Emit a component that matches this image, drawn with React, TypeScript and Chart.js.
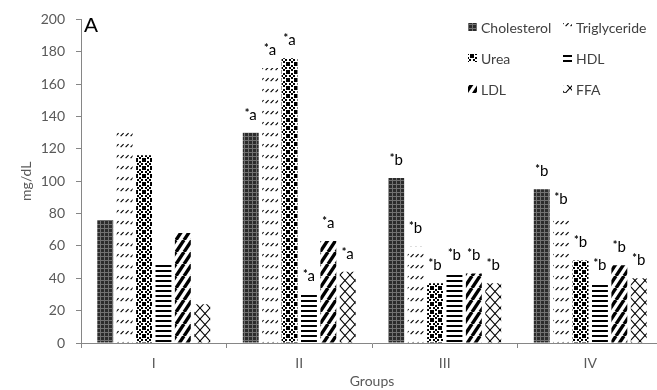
import React, { useEffect, useRef } from "react";
import { Chart, registerables } from "chart.js";
Chart.register(...registerables);

const groups = ["I", "II", "III", "IV"];
const seriesNames = ["Cholesterol", "Triglyceride", "Urea", "HDL", "LDL", "FFA"];
const cholesterol = [76, 130, 102, 95];
const triglyceride = [132, 170, 60, 78];
const urea = [116, 176, 37, 51];
const hdl = [50, 30, 43, 37];
const ldl = [68, 63, 43, 48];
const ffa = [24, 44, 37, 40];
const significance = ["", "*a", "*b", "*b"];
const yMin = 0;
const yMax = 200;
const yStep = 20;
const panelLabel = "A";

const seriesValues = [cholesterol, triglyceride, urea, hdl, ldl, ffa];

const FONT = "Lato, 'Open Sans', sans-serif";
const AXIS = "#868686";
const TEXT = "#595959";

type Draw = (g: CanvasRenderingContext2D, w: number, h: number) => void;

function makePattern(w: number, h: number, draw: Draw): CanvasPattern {
  const c = document.createElement("canvas");
  c.width = w;
  c.height = h;
  const g = c.getContext("2d")!;
  g.fillStyle = "#ffffff";
  g.fillRect(0, 0, w, h);
  draw(g, w, h);
  return g.createPattern(c, "repeat")!;
}

function buildPatterns(): CanvasPattern[] {
  const chol = makePattern(4, 4, (g) => {
    g.fillStyle = "#2c2c2c";
    g.fillRect(0, 0, 4, 4);
    g.fillStyle = "#727272";
    g.fillRect(0, 0, 4, 1);
    g.fillRect(0, 0, 1, 4);
  });
  const tri = makePattern(5, 11, (g) => {
    g.strokeStyle = "#000";
    g.lineWidth = 1.2;
    g.beginPath();
    g.moveTo(0.6, 4.2);
    g.lineTo(3.6, 1.2);
    g.stroke();
  });
  const ureaP = makePattern(8, 8, (g) => {
    g.fillStyle = "#000";
    const sq = [[0, 0], [3, 1], [6, 0], [1, 3], [5, 3], [3, 5], [0, 6], [6, 6]];
    sq.forEach(([x, y]) => g.fillRect(x, y, 2, 2));
  });
  const hdlP = makePattern(4, 5, (g) => {
    g.fillStyle = "#000";
    g.fillRect(0, 0, 4, 2);
  });
  const ldlP = makePattern(8, 12, (g) => {
    g.strokeStyle = "#000";
    g.lineWidth = 3.4;
    for (const dx of [-8, 0, 8]) {
      g.beginPath();
      g.moveTo(dx, 12);
      g.lineTo(dx + 8, 0);
      g.stroke();
    }
  });
  const ffaP = makePattern(10, 11, (g) => {
    g.strokeStyle = "#000";
    g.lineWidth = 1.1;
    for (const dx of [-10, 0, 10]) {
      g.beginPath();
      g.moveTo(dx, 0);
      g.lineTo(dx + 10, 11);
      g.stroke();
      g.beginPath();
      g.moveTo(dx, 11);
      g.lineTo(dx + 10, 0);
      g.stroke();
    }
  });
  return [chol, tri, ureaP, hdlP, ldlP, ffaP];
}

const annotationPlugin = {
  id: "sigLabels",
  afterDatasetsDraw(chart: any) {
    const ctx = chart.ctx as CanvasRenderingContext2D;
    ctx.save();
    ctx.fillStyle = "#000";
    ctx.textBaseline = "alphabetic";
    chart.data.datasets.forEach((_: any, di: number) => {
      const meta = chart.getDatasetMeta(di);
      meta.data.forEach((el: any, j: number) => {
        const txt = significance[j];
        if (!txt) return;
        const star = txt.charAt(0);
        const rest = txt.slice(1);
        ctx.font = `bold 11px ${FONT}`;
        const ws = ctx.measureText(star).width;
        ctx.font = `15px ${FONT}`;
        const wr = ctx.measureText(rest).width;
        const total = ws + wr;
        const x0 = el.x - total / 2;
        const base = el.y - 13;
        ctx.font = `bold 11px ${FONT}`;
        ctx.fillText(star, x0, base - 3);
        ctx.font = `15px ${FONT}`;
        ctx.fillText(rest, x0 + ws, base);
      });
    });
    ctx.restore();
  },
};

const legendPlugin = {
  id: "gridLegend",
  afterDraw(chart: any) {
    const ctx = chart.ctx as CanvasRenderingContext2D;
    const colX = [468, 563];
    const rowY = [27, 58, 89];
    ctx.save();
    ctx.font = `14px ${FONT}`;
    ctx.textBaseline = "middle";
    chart.data.datasets.forEach((ds: any, i: number) => {
      const x = colX[i % 2];
      const y = rowY[Math.floor(i / 2)];
      ctx.fillStyle = ds.backgroundColor;
      ctx.fillRect(x, y - 4, 9, 8);
      ctx.fillStyle = "#404040";
      ctx.fillText(ds.label, x + 13, y + 1);
    });
    ctx.restore();
  },
};

const panelPlugin = {
  id: "panelLabel",
  afterDraw(chart: any) {
    const ctx = chart.ctx as CanvasRenderingContext2D;
    ctx.save();
    ctx.font = `21px 'Liberation Sans', Arial, sans-serif`;
    ctx.fillStyle = "#000";
    ctx.textBaseline = "alphabetic";
    ctx.fillText(panelLabel, chart.chartArea.left + 3, 32);
    ctx.restore();
  },
};

export default function App() {
  const ref = useRef<HTMLCanvasElement | null>(null);
  useEffect(() => {
    if (!ref.current) return;
    const patterns = buildPatterns();
    const chart = new Chart(ref.current, {
      type: "bar",
      data: {
        labels: groups,
        datasets: seriesNames.map((name, i) => ({
          label: name,
          data: seriesValues[i],
          backgroundColor: patterns[i],
          borderWidth: 0,
          categoryPercentage: 0.8,
          barPercentage: 0.82,
        })),
      },
      options: {
        responsive: false,
        animation: false,
        devicePixelRatio: 1,
        layout: { padding: { top: 15, left: 0, right: 0, bottom: 0 } },
        plugins: {
          legend: { display: false },
          tooltip: { enabled: false },
        },
        scales: {
          x: {
            offset: true,
            grid: {
              display: true,
              drawOnChartArea: false,
              drawTicks: true,
              tickLength: 5,
              color: AXIS,
              offset: true,
            },
            border: { display: true, color: AXIS, width: 1 },
            ticks: { color: TEXT, font: { family: FONT, size: 14 }, padding: 7 },
            title: {
              display: true,
              text: "Groups",
              color: TEXT,
              font: { family: FONT, size: 14 },
              padding: 0,
            },
            afterFit: (s: any) => {
              s.height = 47;
            },
          },
          y: {
            min: yMin,
            max: yMax,
            ticks: {
              stepSize: yStep,
              color: TEXT,
              font: { family: FONT, size: 14 },
              padding: 11,
            },
            grid: {
              display: true,
              drawOnChartArea: false,
              drawTicks: true,
              tickLength: 5,
              color: AXIS,
            },
            border: { display: true, color: AXIS, width: 1 },
            title: {
              display: true,
              text: "mg/dL",
              color: TEXT,
              font: { family: FONT, size: 14 },
              padding: { top: 18, bottom: 0 },
            },
            afterFit: (s: any) => {
              s.width = 81;
            },
          },
        },
      },
      plugins: [annotationPlugin, legendPlugin, panelPlugin],
    });
    return () => chart.destroy();
  }, []);

  return (
    <div
      style={{
        position: "fixed",
        left: 0,
        top: 0,
        width: 657,
        height: 390,
        overflow: "hidden",
        background: "#ffffff",
      }}
    >
      <canvas ref={ref} width={663} height={390} style={{ display: "block", width: 663, height: 390 }} />
    </div>
  );
}
